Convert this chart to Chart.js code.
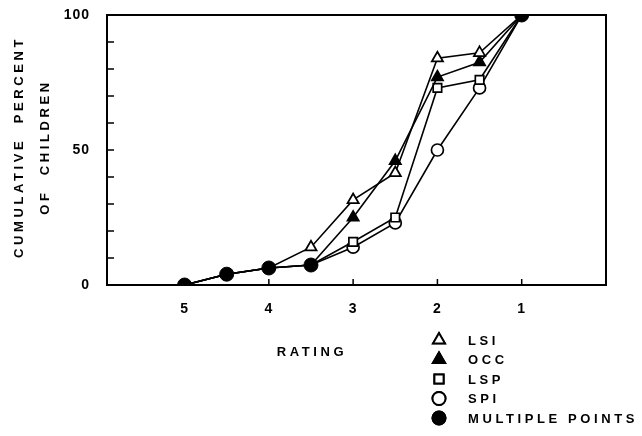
<!DOCTYPE html>
<html>
<head>
<meta charset="utf-8">
<script src="https://cdn.jsdelivr.net/npm/chart.js@4/dist/chart.umd.min.js"></script>
<style>
  html, body { margin: 0; padding: 0; background: #fff; }
  #wrap { width: 642px; height: 436px; position: relative; }
</style>
</head>
<body>
<div id="wrap"><canvas id="grafico"></canvas></div>
<script>
// rating positions (x)
const ratings = [5, 4.5, 4, 3.5, 3, 2.5, 2, 1.5, 1];
const ratingTicks = [5, 4, 3, 2, 1];
const lsi = [0, 4, 6.3, 14, 31.5, 41.5, 84, 86, 100];
const occ = [0, 4, 6.3, 7.4, 25, 46, 77, 82.5, 100];
const lsp = [0, 4, 6.3, 7.4, 16, 25, 73, 76, 100];
const spi = [0, 4, 6.3, 7.4, 14, 23, 50, 73, 100];
const multiple = [0, 4, 6.3, 7.4, null, null, null, null, 100];
const yLabels = [0, 50, 100];

const FONT = '"Liberation Sans", Arial, sans-serif';

function toPoints(values) {
    return ratings.map((r, i) => ({ x: r, y: values[i] }));
}

// hide a series marker where it sits under a "multiple points" dot
function radiusFor(values, r) {
    return function (ctx) {
        const i = ctx.dataIndex;
        if (multiple[i] !== null && values[i] === multiple[i]) return 0;
        return r;
    };
}

function serie(label, values, style, fill, r) {
    return {
        label: label,
        data: toPoints(values),
        borderColor: '#000',
        borderWidth: 1.6,
        pointStyle: style,
        pointRadius: radiusFor(values, r),
        pointBackgroundColor: fill,
        pointBorderColor: '#000',
        pointBorderWidth: 1.7,
        tension: 0,
        order: 2
    };
}

const datasets = [
    serie('LSI', lsi, 'triangle', '#fff', 6.5),
    serie('OCC', occ, 'triangle', '#000', 6.5),
    serie('LSP', lsp, 'rect', '#fff', 6),
    serie('SPI', spi, 'circle', '#fff', 6),
    {
        label: 'MULTIPLE POINTS',
        data: toPoints(multiple),
        showLine: false,
        pointStyle: 'circle',
        pointRadius: 7,
        pointBackgroundColor: '#000',
        pointBorderColor: '#000',
        pointBorderWidth: 1,
        order: 1
    }
];

// caja, marcas interiores, titulos y leyenda
const marco = {
    id: 'marco',
    beforeDraw(chart) {
        chart.ctx.letterSpacing = '1px';
    },
    afterDraw(chart) {
        const ctx = chart.ctx;
        const a = chart.chartArea;
        const xs = chart.scales.x;
        const ys = chart.scales.y;
        ctx.save();
        ctx.letterSpacing = '0px';
        ctx.strokeStyle = '#000';
        ctx.lineWidth = 2;
        ctx.strokeRect(a.left, a.top, a.right - a.left, a.bottom - a.top);

        ctx.lineWidth = 1.5;
        ctx.beginPath();
        for (let v = 10; v < 100; v += 10) {
            const py = ys.getPixelForValue(v);
            ctx.moveTo(a.left, py);
            ctx.lineTo(a.left + 7, py);
        }
        ratingTicks.forEach(function (r) {
            const px = xs.getPixelForValue(r);
            ctx.moveTo(px, a.bottom);
            ctx.lineTo(px, a.bottom - 6);
        });
        ctx.stroke();

        ctx.fillStyle = '#000';
        ctx.font = 'bold 13px ' + FONT;
        ctx.letterSpacing = '3.6px';
        ctx.textAlign = 'center';
        ctx.textBaseline = 'middle';
        ctx.fillText('RATING', 312, 352);

        ctx.save();
        ctx.translate(19, 147);
        ctx.rotate(-Math.PI / 2);
        ctx.fillText('CUMULATIVE  PERCENT', 0, 0);
        ctx.fillText('OF  CHILDREN', 0, 26);
        ctx.restore();

        // leyenda
        const filas = [340, 359.5, 379, 398.5, 418];
        ctx.textAlign = 'left';
        chart.data.datasets.forEach(function (ds, i) {
            const y = filas[i];
            Chart.helpers.drawPoint(ctx, {
                pointStyle: ds.pointStyle,
                radius: ds.pointStyle === 'triangle' ? 7 : 6.5,
                rotation: 0,
                borderWidth: 2
            }, 439, y);
            ctx.fillStyle = ds.pointBackgroundColor;
            ctx.strokeStyle = '#000';
            ctx.lineWidth = 2;
            ctx.fill();
            ctx.stroke();
            ctx.fillStyle = '#000';
            ctx.fillText(ds.label, 468, y + 1);
        });
        ctx.restore();
    }
};

new Chart(document.getElementById('grafico').getContext('2d'), {
    type: 'line',
    data: { datasets: datasets },
    options: {
        responsive: true,
        maintainAspectRatio: false,
        animation: false,
        layout: { padding: { top: 15, right: 36, left: 0, bottom: 0 } },
        scales: {
            x: {
                type: 'linear',
                reverse: true,
                min: 0,
                max: 5.92,
                afterBuildTicks: function (axis) {
                    axis.ticks = ratingTicks.map(v => ({ value: v }));
                },
                afterFit: function (axis) {
                    axis.height = 151;
                    axis.paddingLeft = 0;
                    axis.paddingRight = 0;
                },
                grid: { display: false },
                border: { display: false },
                ticks: {
                    color: '#000',
                    padding: 8,
                    maxRotation: 0,
                    font: { family: FONT, size: 14, weight: 'bold' }
                }
            },
            y: {
                min: 0,
                max: 100,
                afterBuildTicks: function (axis) {
                    axis.ticks = yLabels.map(v => ({ value: v }));
                },
                afterFit: function (axis) {
                    axis.width = 107;
                    axis.paddingTop = 0;
                    axis.paddingBottom = 0;
                },
                grid: { display: false },
                border: { display: false },
                ticks: {
                    color: '#000',
                    padding: 9,
                    font: { family: FONT, size: 14, weight: 'bold' }
                }
            }
        },
        plugins: {
            legend: { display: false },
            tooltip: { enabled: false }
        }
    },
    plugins: [marco]
});
</script>
</body>
</html>
